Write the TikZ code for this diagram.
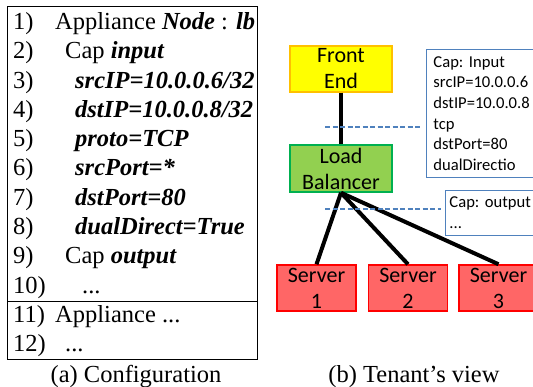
\documentclass[tikz,border=0pt]{standalone}
\usepackage{fontspec}
\setmainfont{Liberation Serif}
\newfontfamily\calibri{Carlito}
\usetikzlibrary{positioning}

\definecolor{feyellow}{RGB}{255,255,0}
\definecolor{feorange}{RGB}{255,192,0}
\definecolor{lbgreen}{RGB}{146,208,80}
\definecolor{lbdark}{RGB}{0,176,80}
\definecolor{srvred}{RGB}{255,102,102}
\definecolor{capblue}{RGB}{79,129,189}

\newcommand{\cfgkw}[1]{\textbf{\textit{#1}}}

\tikzset{
  cfgline/.style = {anchor=base west, inner sep=0pt, font=\fontsize{24.5}{29}\selectfont},
  caption/.style = {anchor=base, inner sep=0pt, font=\fontsize{24.5}{29}\selectfont},
  vmbox/.style = {draw, line width=1.5pt, inner sep=0pt, align=center,
    minimum height=46pt, font=\calibri\fontsize{22}{26}\selectfont},% tenant's boxes
  fe_n/.style = {vmbox, draw=feorange, fill=feyellow, minimum width=102pt},
  lb_n/.style = {vmbox, draw=lbdark, fill=lbgreen, minimum width=102pt, minimum height=47pt},
  srv_n/.style = {vmbox, draw=red, fill=srvred, minimum width=79pt},
  capbox/.style = {draw=capblue, line width=0.9pt, anchor=north west, align=left,
    inner xsep=7pt, inner ysep=0pt, text width=100pt,
    font=\calibri\fontsize{16.6}{20.6}\selectfont\frenchspacing},
  link/.style = {line width=4pt},
  capline/.style = {draw=capblue, line width=1.4pt, dash pattern=on 5pt off 2.5pt, shorten >=4pt}
}

\begin{document}
\begin{tikzpicture}[x=1pt, y=-1pt]
  \useasboundingbox (0,0) rectangle (533,387);

  % (a) configuration
  \draw[line width=1pt] (7,7) rectangle (257,360);
  \draw[line width=1pt] (7,301.5) -- (257,301.5);
  \node[cfgline] (n1) at (13,29.5) {1)};
  \node[cfgline] (t1) at (55,29.5) {Appliance \cfgkw{Node} : \cfgkw{lb}};
  \node[cfgline] (n2) at (13,58.8) {2)};
  \node[cfgline] (t2) at (65,58.8) {Cap \cfgkw{input}};
  \node[cfgline] (n3) at (13,88.1) {3)};
  \node[cfgline] (t3) at (75,88.1) {\cfgkw{srcIP=10.0.0.6/32}};
  \node[cfgline] (n4) at (13,117.4) {4)};
  \node[cfgline] (t4) at (75,117.4) {\cfgkw{dstIP=10.0.0.8/32}};
  \node[cfgline] (n5) at (13,146.7) {5)};
  \node[cfgline] (t5) at (75,146.7) {\cfgkw{proto=TCP}};
  \node[cfgline] (n6) at (13,176) {6)};
  \node[cfgline] (t6) at (75,176) {\cfgkw{srcPort=*}};
  \node[cfgline] (n7) at (13,205.3) {7)};
  \node[cfgline] (t7) at (75,205.3) {\cfgkw{dstPort=80}};
  \node[cfgline] (n8) at (13,234.6) {8)};
  \node[cfgline] (t8) at (75,234.6) {\cfgkw{dualDirect=True}};
  \node[cfgline] (n9) at (13,263.9) {9)};
  \node[cfgline] (t9) at (65,263.9) {Cap \cfgkw{output}};
  \node[cfgline] (n10) at (13,293.2) {10)};
  \node[cfgline] (t10) at (82,293.2) {...};
  \node[cfgline] (n11) at (13,322.5) {11)};
  \node[cfgline] (t11) at (55,322.5) {Appliance ...};
  \node[cfgline] (n12) at (13,351.8) {12)};
  \node[cfgline] (t12) at (65,351.8) {...};
  \node[caption] (capa) at (136,382) {(a) Configuration};

  % (b) tenant's view
  \node[fe_n] (fe) at (341,69) {Front\\End};
  \node[lb_n] (lb) at (341,168.5) {Load\\Balancer};
  \node[srv_n] (s1) at (316.5,288) {Server\\1};
  \node[srv_n, right=11pt of s1] (s2) {Server\\2};
  \node[srv_n, right=10pt of s2] (s3) {Server\\3};
  \node[capbox, minimum height=128pt] (capin) at (426,49)
    {Cap: Input\\srcIP=10.0.0.6\\dstIP=10.0.0.8\\tcp\\dstPort=80\\dualDirectio};
  \node[capbox, minimum height=45pt, inner xsep=4pt] (capout) at (445,190) {Cap: output\\...};
  \draw[link] (fe) -- (lb);
  \draw[link] (lb.south) -- (s1.north);
  \draw[link] (lb.south) -- (s2.north);
  \draw[link] (lb.south) -- (s3.north);
  \coordinate (d1) at (325,127);
  \coordinate (d2) at (325,209);
  \draw[capline] (d1) -- (d1 -| capin.west);
  \draw[capline] (d2) -- (d2 -| capout.west);
  \node[caption] (capb) at (414,382) {(b) Tenant’s view};
\end{tikzpicture}
\end{document}
